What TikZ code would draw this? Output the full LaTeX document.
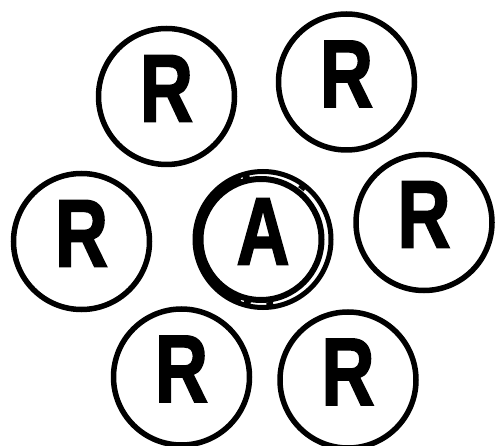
\documentclass[tikz,border=0pt]{standalone}
\usepackage{fontspec}
\setmainfont{Liberation Sans}
\newfontfamily\atomfont{Liberation Sans}[BoldFeatures={FakeBold=2}]
\usepackage{graphicx}
\usepackage{tikz}
\usetikzlibrary{calc}

\newcommand{\elem}[1]{\scalebox{0.92}[1.2]{#1}}

\begin{document}
\begin{tikzpicture}[
  x=1pt,y=-1pt,
  atom/.style={circle,draw,line width=5.5pt,minimum size=136pt,inner sep=0pt,
               text depth=16pt,font=\atomfont\fontsize{80}{80}\selectfont\bfseries},
  centre/.style={atom,line width=5pt},
  ring/.style={line width=6pt},
  tick/.style={line width=4pt}
]
\useasboundingbox (0,0) rectangle (498,446);

%%%%%%%%%%%%%%%%%%%%%% surrounding R atoms %%%%%%%%%%%%%%%%%%%%%%%%%
\node[atom] (rtl) at (166.5, 96.5) {\elem{R}};
\node[atom] (rtr) at (346.5, 82.0) {\elem{R}};
\node[atom] (rml) at ( 81.5,241.5) {\elem{R}};
\node[atom] (rmr) at (424.0,222.5) {\elem{R}};
\node[atom] (rbl) at (181.5,377.0) {\elem{R}};
\node[atom] (rbr) at (348.0,380.0) {\elem{R}};

%%%%%%%%%%%%%%%%%%%%%% central A atom %%%%%%%%%%%%%%%%%%%%%%%%%%%%%
\node[centre] (a) at (263,239.5) {\elem{A}};
\draw[ring] ($(a.center)+(-2,0)$) circle (60.5pt);
% left crescent and the small bridges across the gap
\draw[line width=6.5pt] ($(a.center)+(110:65pt)$) arc (110:250:65pt);
\foreach \ang in {105,53,256,276}
  \draw[tick] ($(a.center)+(\ang-3:65pt)$) arc (\ang-3:\ang+3:65pt);
\end{tikzpicture}
\end{document}
